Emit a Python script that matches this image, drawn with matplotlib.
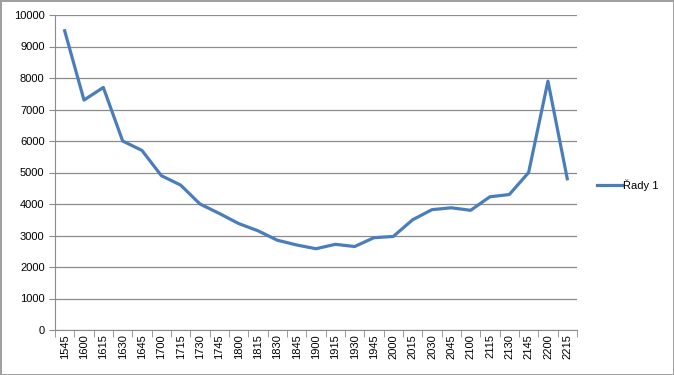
import matplotlib
matplotlib.use("Agg")
import matplotlib.pyplot as plt
import numpy as np

years = ["1545", "1600", "1615", "1630", "1645", "1700", "1715", "1730", "1745",
         "1800", "1815", "1830", "1845", "1900", "1915", "1930", "1945", "2000",
         "2015", "2030", "2045", "2100", "2115", "2130", "2145", "2200", "2215"]
values = [9500, 7300, 7700, 6000, 5700, 4900, 4600, 4000, 3700,
          3380, 3150, 2850, 2700, 2580, 2720, 2650, 2930, 2970,
          3500, 3820, 3880, 3800, 4230, 4300, 5000, 7900, 4800]
series_name = "Řady 1"

plt.rcParams['font.family'] = ['Liberation Sans', 'DejaVu Sans']

fig = plt.figure(figsize=(6.74, 3.75), dpi=100)
fig.patch.set_edgecolor('#a0a0a0')
fig.patch.set_linewidth(2)
ax = fig.add_axes([0.0816, 0.12, 0.7744, 0.84])

x = np.arange(len(years))
ax.plot(x, values, color='#4a7ebb', linewidth=2.3, label=series_name)

ax.set_xlim(-0.5, len(years) - 0.5)
ax.set_ylim(0, 10000)
ax.set_yticks(np.arange(0, 10001, 1000))
ax.yaxis.grid(True, color='#8c8c8c', linewidth=0.9)
ax.set_axisbelow(True)

ax.set_xticks(x)
ax.set_xticklabels(years, rotation=90, fontsize=8)
ax.set_xticks(np.arange(-0.5, len(years), 1), minor=True)
ax.tick_params(axis='x', which='major', length=0, pad=3)
ax.tick_params(axis='x', which='minor', length=5, color='#8c8c8c')
ax.tick_params(axis='y', length=4, color='#8c8c8c', labelsize=8)

for s in ['top', 'right']:
    ax.spines[s].set_visible(False)
ax.spines['left'].set_color('#8c8c8c')
ax.spines['bottom'].set_color('#8c8c8c')

ax.legend(loc='center left', bbox_to_anchor=(1.02, 0.46), frameon=False,
          fontsize=8, handlelength=2.2, handletextpad=0.1)

fig.savefig("out.png", dpi=100)
